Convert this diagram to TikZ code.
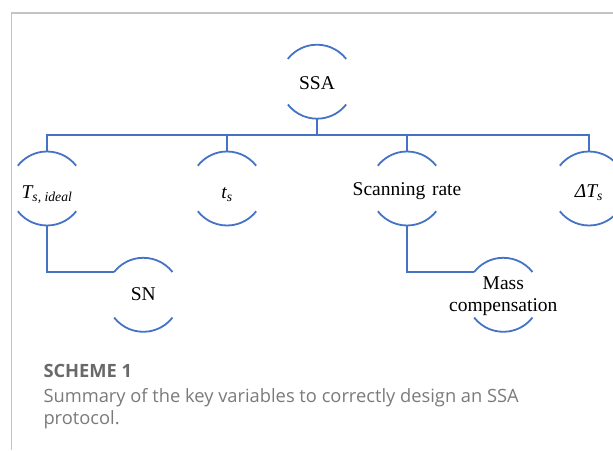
\documentclass[tikz,border=0pt]{standalone}
\usepackage{fontspec}
\setmainfont{Liberation Serif}
\newfontfamily\capfont{Open Sans}
\usetikzlibrary{calc}

\definecolor{linkblue}{RGB}{68,114,196}
\definecolor{framegray}{RGB}{196,196,196}
\definecolor{captitle}{RGB}{105,105,105}
\definecolor{captext}{RGB}{122,122,122}

\tikzset{
  ring/.style={circle, minimum size=74pt, inner sep=0pt, outer sep=0pt},
  lbl/.style={font=\fontsize{19.5}{22}\selectfont, align=center, inner sep=0pt},
  link/.style={draw=linkblue, line width=1.8pt},
  frame/.style={draw=framegray, line width=1.2pt},
  captitle/.style={font=\capfont\bfseries\fontsize{18.3}{21}\selectfont, text=captitle, anchor=base west, inner sep=0pt},
  capline/.style={font=\capfont\fontsize{18.3}{21}\selectfont, text=captext, anchor=base west, inner sep=0pt}
}

\begin{document}
\begin{tikzpicture}[x=1pt, y=1pt]
  \useasboundingbox (0,0) rectangle (613,450);

  % panel frame (top and left edges)
  \draw[frame] (613,437) -- (11.5,437) -- (11.5,0);

  % variable rings
  \node[ring] (ssa)  at (317,368.3) {};
  \node[ring] (tsi)  at (47,261.5)  {};
  \node[ring] (ts)   at (227,261.5) {};
  \node[ring] (scan) at (407,261.5) {};
  \node[ring] (dts)  at (589,261.5) {};
  \node[ring] (sn)   at (143.3,155.2) {};
  \node[ring] (mass) at (503.3,155.2) {};

  % upper and lower arcs of every ring
  \foreach \n in {ssa,tsi,ts,scan,dts,sn,mass}{
    \draw[link] (\n.38) arc[start angle=38, end angle=142, radius=37pt];
    \draw[link] (\n.218) arc[start angle=218, end angle=322, radius=37pt];
  }

  % labels
  \node[lbl] (ssa-t)  at ($(ssa)+(0,-1.5)$)  {SSA};
  \node[lbl] (tsi-t)  at ($(tsi)+(0,-6)$)    {\itshape T\textsubscript{s, ideal}};
  \node[lbl] (ts-t)   at ($(ts)+(0,-6)$)     {\itshape t\textsubscript{s}};
  \node[lbl] (scan-t) at ($(scan)+(0,-2.5)$) {Scanning\hspace{0.35em}rate};
  \node[lbl] (dts-t)  at ($(dts)+(0,-4.5)$)  {\itshape ΔT\textsubscript{s}};
  \node[lbl] (sn-t)   at ($(sn)+(0,0.5)$)    {SN};
  \node[lbl] (mass-t) at ($(mass)+(0,-1)$)   {Mass\\compensation};

  % tree connectors
  \coordinate (bar) at (317,315);
  \draw[link] (ssa.south) -- (bar);
  \draw[link] (tsi.north) |- (bar) -| (dts.north);
  \draw[link] (ts.north) -- (ts.north |- bar);
  \draw[link] (scan.north) -- (scan.north |- bar);
  \draw[link] (tsi.south) |- (sn.142);
  \draw[link] (scan.south) |- (mass.142);

  % caption
  \node[captitle] (cap-title) at (43.3,72.3) {SCHEME 1};
  \node[capline]  (cap-1)     at (43.3,47.5) {Summary of the key variables to correctly design an SSA};
  \node[capline]  (cap-2)     at (43.3,25.5) {protocol.};
\end{tikzpicture}
\end{document}
